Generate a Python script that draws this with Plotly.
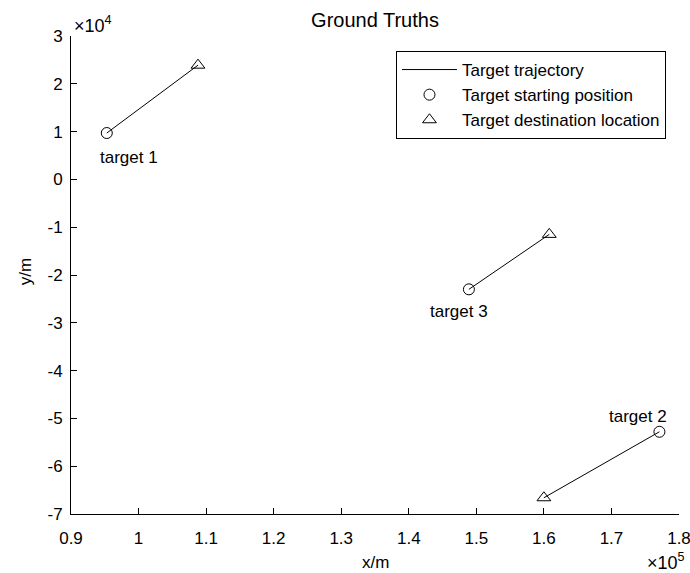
import plotly.graph_objects as go

# Ground-truth targets: start and destination positions (metres)
target_names = ["target 1", "target 2", "target 3"]
start_x = [95300, 177100, 148900]
start_y = [9700, -52800, -23000]
end_x = [108800, 160000, 160800]
end_y = [23900, -66600, -11500]

# Label anchor positions (left edge, vertical middle)
label_x = [94000, 169400, 142800]
label_y = [4600, -49600, -27600]

x_tickvals = [90000, 100000, 110000, 120000, 130000, 140000, 150000, 160000, 170000, 180000]
x_ticktext = ["0.9", "1", "1.1", "1.2", "1.3", "1.4", "1.5", "1.6", "1.7", "1.8"]
y_tickvals = [-70000, -60000, -50000, -40000, -30000, -20000, -10000, 0, 10000, 20000, 30000]
y_ticktext = ["-7", "-6", "-5", "-4", "-3", "-2", "-1", "0", "1", "2", "3"]

FONT = "Liberation Sans, Arial, Helvetica, sans-serif"
FS = 17

traj_x, traj_y = [], []
for sx, sy, ex, ey in zip(start_x, start_y, end_x, end_y):
    traj_x += [sx, ex, None]
    traj_y += [sy, ey, None]

fig = go.Figure()
fig.add_trace(go.Scatter(x=traj_x, y=traj_y, mode="lines",
                         line=dict(color="black", width=1),
                         name="Target trajectory"))
fig.add_trace(go.Scatter(x=start_x, y=start_y, mode="markers",
                         marker=dict(symbol="circle-open", size=11, color="black",
                                     line=dict(width=1, color="black")),
                         name="Target starting position"))
fig.add_trace(go.Scatter(x=end_x, y=end_y, mode="markers",
                         marker=dict(symbol="triangle-up-open", size=12, color="black",
                                     line=dict(width=1, color="black")),
                         name="Target destination location"))

for name, lx, ly in zip(target_names, label_x, label_y):
    fig.add_annotation(x=lx, y=ly, text=name, showarrow=False,
                       xanchor="left", yanchor="middle",
                       font=dict(family=FONT, size=FS, color="black"))

# Axis titles
fig.add_annotation(xref="paper", yref="paper", x=0.5, y=-0.1025, text="x/m",
                   showarrow=False, xanchor="center", yanchor="middle",
                   font=dict(family=FONT, size=FS, color="black"))
fig.add_annotation(xref="paper", yref="paper", x=-0.0757, y=0.508, text="y/m",
                   showarrow=False, xanchor="center", yanchor="middle", textangle=-90,
                   font=dict(family=FONT, size=FS, color="black"))

# Exponent multipliers for the axes
fig.add_annotation(xref="paper", yref="paper", x=0.002, y=1.025, text="×10<sup>4</sup>",
                   showarrow=False, xanchor="left", yanchor="middle",
                   font=dict(family=FONT, size=18, color="black"))
fig.add_annotation(xref="paper", yref="paper", x=1.013, y=-0.100, text="×10<sup>5</sup>",
                   showarrow=False, xanchor="right", yanchor="middle",
                   font=dict(family=FONT, size=18, color="black"))

axis_common = dict(showgrid=False, zeroline=False, showline=True, linecolor="black",
                   linewidth=1, ticks="inside", ticklen=6, tickcolor="black",
                   mirror=False, automargin=False, ticklabeloverflow="allow",
                   tickfont=dict(family=FONT, size=FS, color="black"))

fig.update_xaxes(range=[90000, 180000], tickvals=x_tickvals, ticktext=x_ticktext,
                 ticklabelstandoff=9, **axis_common)
fig.update_yaxes(range=[-70000, 30000], tickvals=y_tickvals, ticktext=y_ticktext,
                 ticklabelstandoff=4, **axis_common)

fig.update_layout(
    width=690, height=573,
    margin=dict(l=71, r=11, t=36, b=59),
    paper_bgcolor="white", plot_bgcolor="white",
    title=dict(text="Ground Truths", x=0.5435, xanchor="center",
               yref="container", y=1 - 20 / 573, yanchor="middle",
               font=dict(family=FONT, size=20, color="black")),
    legend=dict(x=0.5345, y=0.9686, xanchor="left", yanchor="top",
                bordercolor="black", borderwidth=1, bgcolor="white",
                font=dict(family=FONT, size=FS, color="black"),
                itemwidth=55, tracegroupgap=0),
    showlegend=True,
)

fig.write_html("out.html")
